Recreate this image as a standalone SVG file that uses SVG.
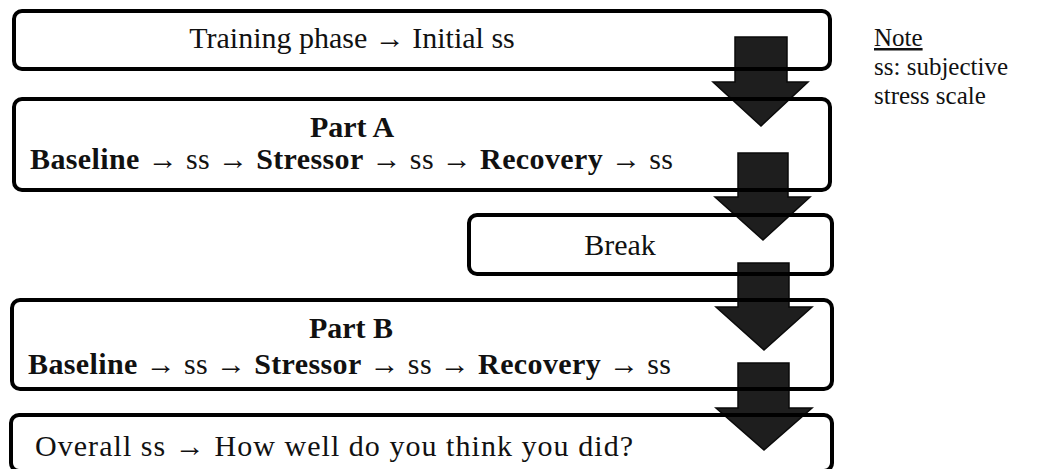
<svg xmlns="http://www.w3.org/2000/svg" width="1039" height="469" viewBox="0 0 1039 469">
<style>
.box{fill:none;stroke:#000;stroke-width:4}
.arr{fill:#1e1e1e;stroke:#0a0a0a;stroke-width:1.5;stroke-linejoin:miter}
.t{font-family:"Liberation Serif","Times New Roman",serif;font-size:30px;fill:#111}
.b{font-weight:bold}
.n{font-family:"Liberation Serif","Times New Roman",serif;font-size:25px;fill:#111}
</style>
<rect width="1039" height="469" fill="#fff"/>
<g id="connectors">
<path class="arr" d="M735,37 H787 V82 H808 L761,126 L713,82 H735 Z"/>
<path class="arr" d="M738,153 H788 V197 H810 L763,240 L715,197 H738 Z"/>
<path class="arr" d="M738,263 H789 V307 H812 L764,350 L716,307 H738 Z"/>
<path class="arr" d="M738,363 H789 V408 H812 L764,450 L716,408 H738 Z"/>
</g>
<g id="training">
<rect class="box" x="14" y="11" width="816" height="58" rx="8"/>
<text class="t" x="352" y="48" text-anchor="middle">Training phase → Initial ss</text>
</g>
<g id="partA">
<rect class="box" x="14" y="99" width="816" height="91" rx="8"/>
<text class="t b" x="352" y="137" text-anchor="middle">Part A</text>
<text class="t" x="30" y="169" textLength="643" lengthAdjust="spacing"><tspan class="b">Baseline</tspan>  → ss → <tspan class="b">Stressor</tspan> → ss → <tspan class="b">Recovery</tspan> → ss</text>
</g>
<g id="break">
<rect class="box" x="469" y="215" width="363" height="59" rx="8"/>
<text class="t" x="620" y="255" text-anchor="middle">Break</text>
</g>
<g id="partB">
<rect class="box" x="12" y="300" width="820" height="89" rx="8"/>
<text class="t b" x="351" y="338" text-anchor="middle">Part B</text>
<text class="t" x="28" y="374" textLength="643" lengthAdjust="spacing"><tspan class="b">Baseline</tspan>  → ss → <tspan class="b">Stressor</tspan> → ss → <tspan class="b">Recovery</tspan> → ss</text>
</g>
<g id="overall">
<rect class="box" x="11" y="415" width="821" height="56" rx="8"/>
<text class="t" x="35" y="456" textLength="598" lengthAdjust="spacing">Overall ss → How well do you think you did?</text>
</g>
<g id="note">
<text class="n" x="874" y="46" text-decoration="underline">Note</text>
<text class="n" x="874" y="75">ss: subjective</text>
<text class="n" x="874" y="104">stress scale</text>
</g>
</svg>
